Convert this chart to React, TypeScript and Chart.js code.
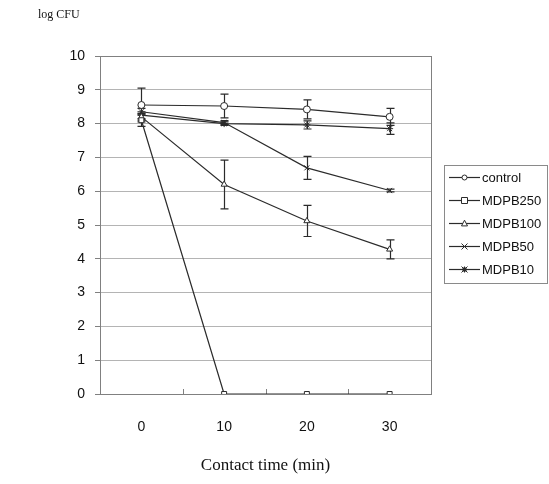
import React, { useEffect, useRef } from 'react';
import { Chart, registerables } from 'chart.js';

Chart.register(...registerables);

// ---- data ----
const timeLabels = ['0', '10', '20', '30'];
const seriesNames = ['control', 'MDPB250', 'MDPB100', 'MDPB50', 'MDPB10'];
const controlValues = [8.55, 8.52, 8.42, 8.2];
const controlErrors = [0.5, 0.35, 0.28, 0.25];
const mdpb250Values = [8.1, 0, 0, 0];
const mdpb250Errors = [0.18, 0, 0, 0];
const mdpb100Values = [8.2, 6.2, 5.12, 4.28];
const mdpb100Errors = [0.1, 0.72, 0.46, 0.28];
const mdpb50Values = [8.35, 8.03, 6.69, 6.02];
const mdpb50Errors = [0.1, 0.06, 0.34, 0.04];
const mdpb10Values = [8.25, 8.0, 7.96, 7.85];
const mdpb10Errors = [0.1, 0.05, 0.12, 0.17];
const yMin = 0;
const yMax = 10;
const yStep = 1;
const yTitle = 'log CFU';
const xTitle = 'Contact time (min)';

const pointStyles = ['circle', 'rect', 'triangle', 'crossRot', 'star'];
const seriesValues = [controlValues, mdpb250Values, mdpb100Values, mdpb50Values, mdpb10Values];
const seriesErrors = [controlErrors, mdpb250Errors, mdpb100Errors, mdpb50Errors, mdpb10Errors];

const INK = '#2b2b2b';
const SANS = '"Liberation Sans", Arial, sans-serif';
const SERIF = '"Liberation Serif", "DejaVu Serif", serif';

function drawMarker(ctx: CanvasRenderingContext2D, style: string, x: number, y: number, r: number) {
  ctx.save();
  ctx.strokeStyle = INK;
  ctx.fillStyle = '#fff';
  ctx.lineWidth = 1;
  ctx.beginPath();
  if (style === 'circle') {
    ctx.arc(x, y, r, 0, Math.PI * 2);
    ctx.fill();
    ctx.stroke();
  } else if (style === 'rect') {
    ctx.rect(x - r, y - r, 2 * r, 2 * r);
    ctx.fill();
    ctx.stroke();
  } else if (style === 'triangle') {
    ctx.moveTo(x, y - r * 1.1);
    ctx.lineTo(x + r, y + r * 0.8);
    ctx.lineTo(x - r, y + r * 0.8);
    ctx.closePath();
    ctx.fill();
    ctx.stroke();
  } else if (style === 'crossRot') {
    ctx.moveTo(x - r, y - r);
    ctx.lineTo(x + r, y + r);
    ctx.moveTo(x + r, y - r);
    ctx.lineTo(x - r, y + r);
    ctx.stroke();
  } else if (style === 'star') {
    ctx.moveTo(x - r, y - r);
    ctx.lineTo(x + r, y + r);
    ctx.moveTo(x + r, y - r);
    ctx.lineTo(x - r, y + r);
    ctx.moveTo(x, y - r);
    ctx.lineTo(x, y + r);
    ctx.stroke();
    ctx.fillStyle = INK;
    ctx.fillRect(x - 2, y - 2, 4, 4);
  }
  ctx.restore();
}

const framePlugin = {
  id: 'frameAndErrors',
  beforeDatasetsDraw(chart: any) {
    const { ctx, chartArea } = chart;
    const xs = chart.scales.x;
    const ys = chart.scales.y;
    ctx.save();
    // frame
    ctx.strokeStyle = '#808080';
    ctx.lineWidth = 1;
    ctx.strokeRect(chartArea.left + 0.5, chartArea.top + 0.5, chartArea.right - chartArea.left, chartArea.bottom - chartArea.top);
    // inward tick marks at category boundaries
    ctx.beginPath();
    for (let i = 1; i < timeLabels.length; i++) {
      const bx = Math.round((xs.getPixelForValue(i - 1) + xs.getPixelForValue(i)) / 2) + 0.5;
      ctx.moveTo(bx, chartArea.bottom);
      ctx.lineTo(bx, chartArea.bottom - 5);
    }
    ctx.stroke();
    // error bars
    ctx.strokeStyle = INK;
    ctx.lineWidth = 1.2;
    chart.data.datasets.forEach((ds: any, i: number) => {
      const meta = chart.getDatasetMeta(i);
      (ds.errors || []).forEach((e: number, j: number) => {
        if (!e) return;
        const pt = meta.data[j];
        const v = ds.data[j];
        const x = Math.round(pt.x) + 0.5;
        const top = ys.getPixelForValue(v + e);
        const bot = ys.getPixelForValue(v - e);
        ctx.beginPath();
        ctx.moveTo(x, top);
        ctx.lineTo(x, bot);
        ctx.moveTo(x - 4, top);
        ctx.lineTo(x + 4, top);
        ctx.moveTo(x - 4, bot);
        ctx.lineTo(x + 4, bot);
        ctx.stroke();
      });
    });
    ctx.restore();
  },
  afterDraw(chart: any) {
    const { ctx, chartArea } = chart;
    ctx.save();
    // titles
    ctx.fillStyle = '#111';
    ctx.font = `12px ${SERIF}`;
    ctx.textAlign = 'left';
    ctx.textBaseline = 'middle';
    ctx.fillText(yTitle, 38, 15);
    ctx.font = `17px ${SERIF}`;
    ctx.textAlign = 'center';
    ctx.fillText(xTitle, (chartArea.left + chartArea.right) / 2, 466);
    // legend
    const bx = 444, by = 165, bw = 103, bh = 118;
    ctx.strokeStyle = '#8a8a8a';
    ctx.lineWidth = 1;
    ctx.strokeRect(bx + 0.5, by + 0.5, bw, bh);
    chart.data.datasets.forEach((ds: any, i: number) => {
      const y = 177 + i * 23;
      ctx.strokeStyle = INK;
      ctx.lineWidth = 1.2;
      ctx.beginPath();
      ctx.moveTo(449, y + 0.5);
      ctx.lineTo(480, y + 0.5);
      ctx.stroke();
      drawMarker(ctx, ds.pointStyle, 464.5, y + 0.5, ds.pointStyle === 'circle' ? 2.5 : 3);
      ctx.fillStyle = '#111';
      ctx.font = `13px ${SANS}`;
      ctx.textAlign = 'left';
      ctx.textBaseline = 'middle';
      ctx.fillText(ds.label, 482, y + 1);
    });
    ctx.restore();
  },
};

export default function App() {
  const ref = useRef<HTMLCanvasElement | null>(null);
  useEffect(() => {
    if (!ref.current) return;
    Chart.defaults.font.family = SANS;
    const datasets = seriesNames.map((name, i) => ({
      label: name,
      data: seriesValues[i],
      errors: seriesErrors[i],
      borderColor: INK,
      borderWidth: 1.2,
      pointStyle: pointStyles[i],
      pointRadius: 3.5,
      pointBorderWidth: 1,
      pointBackgroundColor: pointStyles[i] === 'star' ? INK : '#fff',
      pointBorderColor: INK,
      fill: false,
      tension: 0,
    }));
    const chart = new Chart(ref.current, {
      type: 'line',
      data: { labels: timeLabels, datasets: datasets as any },
      options: {
        responsive: false,
        animation: false,
        layout: { padding: { left: 0, top: 56, right: 118, bottom: 0 } },
        plugins: { legend: { display: false }, tooltip: { enabled: false } },
        scales: {
          x: {
            type: 'category',
            offset: true,
            grid: { display: false },
            border: { display: false },
            ticks: { color: '#111', font: { size: 14 }, padding: 17 },
            afterFit: (s: any) => { s.height = 90; },
          },
          y: {
            min: yMin,
            max: yMax,
            ticks: { stepSize: yStep, color: '#111', font: { size: 14 }, padding: 10 },
            grid: { color: '#b4b4b4', lineWidth: 1, tickLength: 5, tickColor: '#808080' },
            border: { display: false },
            afterFit: (s: any) => { s.width = 100; },
          },
        },
      },
      plugins: [framePlugin],
    });
    return () => chart.destroy();
  }, []);
  return (
    <div style={{ position: 'fixed', left: 0, top: 0, width: 549, height: 484, background: '#fff' }}>
      <canvas ref={ref} width={549} height={484} style={{ display: 'block' }} />
    </div>
  );
}
